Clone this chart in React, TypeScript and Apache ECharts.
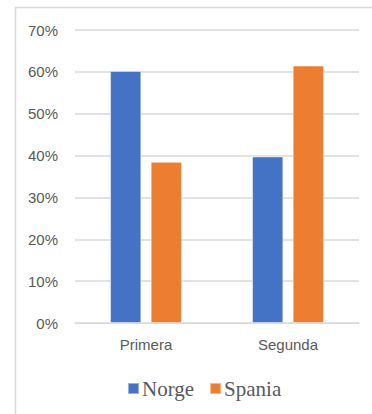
import React, { useEffect, useRef } from "react";
import * as echarts from "echarts";

const categories = ["Primera", "Segunda"];
const norge = [60.2, 39.8];
const spania = [38.5, 61.5];
const yTicks = { min: 0, max: 70, interval: 10 };

export default function App() {
  const ref = useRef<HTMLDivElement>(null);

  useEffect(() => {
    if (!ref.current) return;
    const chart = echarts.init(ref.current, undefined, { renderer: "svg" });
    const labelColor = "#595959";
    const gridColor = "#d9d9d9";
    chart.setOption({
      animation: false,
      backgroundColor: "#ffffff",
      graphic: [
        {
          type: "rect",
          shape: { x: 15.5, y: 7.5, width: 420, height: 460 },
          style: { fill: "none", stroke: gridColor, lineWidth: 1.5 },
          silent: true,
        },
      ],
      grid: { left: 75, right: 13, top: 30, bottom: 91 },
      legend: {
        data: ["Norge", "Spania"],
        left: 122,
        top: 373,
        itemWidth: 11,
        itemHeight: 11,
        itemGap: 15,
        icon: "rect",
        textStyle: {
          fontFamily: "Liberation Serif",
          fontSize: 21,
          color: labelColor,
          padding: [0, 0, 0, -2],
        },
      },
      xAxis: {
        type: "category",
        data: categories,
        axisLine: { lineStyle: { color: gridColor, width: 1 } },
        axisTick: { show: false },
        axisLabel: {
          color: labelColor,
          fontFamily: "Liberation Sans",
          fontSize: 15,
          margin: 14,
        },
      },
      yAxis: {
        type: "value",
        min: yTicks.min,
        max: yTicks.max,
        interval: yTicks.interval,
        axisLine: { show: false },
        axisTick: { show: false },
        splitLine: { lineStyle: { color: gridColor, width: 1.5 } },
        axisLabel: {
          formatter: "{value}%",
          color: labelColor,
          fontFamily: "Liberation Sans",
          fontSize: 15,
          margin: 17,
        },
      },
      series: [
        {
          name: "Norge",
          type: "bar",
          data: norge,
          barWidth: "22%",
          barGap: "30%",
          itemStyle: {
            color: "#4472C4",
            borderColor: "rgba(255,255,255,0.45)",
            borderWidth: 1,
          },
        },
        {
          name: "Spania",
          type: "bar",
          data: spania,
          barWidth: "22%",
          barGap: "30%",
          itemStyle: {
            color: "#ED7D31",
            borderColor: "rgba(255,255,255,0.45)",
            borderWidth: 1,
          },
        },
      ],
    });
    return () => chart.dispose();
  }, []);

  return (
    <div
      ref={ref}
      style={{ position: "fixed", left: 0, top: 0, width: 372, height: 414 }}
    />
  );
}
